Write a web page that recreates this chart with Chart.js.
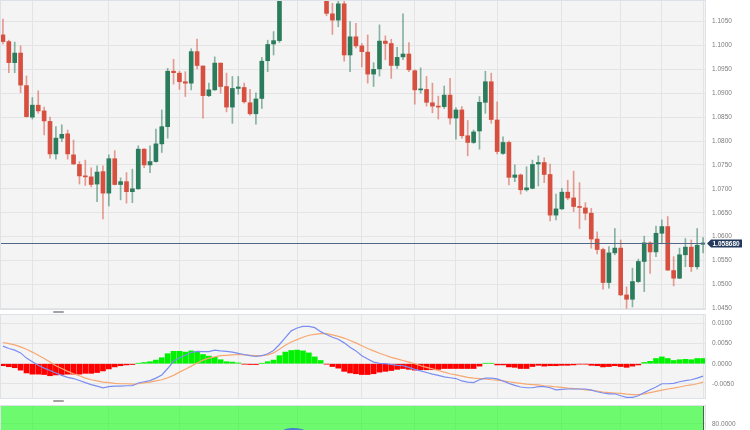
<!DOCTYPE html>
<html><head><meta charset="utf-8">
<script src="https://cdn.jsdelivr.net/npm/chart.js@4.4.1/dist/chart.umd.min.js"></script>
<style>
html,body{margin:0;padding:0;background:#fff;}
body{width:750px;height:430px;overflow:hidden;position:relative;}
.pane{position:absolute;left:0;width:750px;}
.grab{position:absolute;left:53px;width:11px;height:2px;background:#a3a3a3;border-radius:1px;}
</style></head><body>
<div class="pane" style="top:0;height:312px"><canvas id="main"></canvas></div>
<div class="grab" style="top:311px"></div>
<div class="pane" style="top:314px;height:85px"><canvas id="macd"></canvas></div>
<div class="grab" style="top:400px"></div>
<div class="pane" style="top:405px;height:95px"><canvas id="rsi"></canvas></div>
<script>
// ---------------- data ----------------
const open = [
1.1022,1.1008,1.0964,1.0984,1.0916,1.0850,1.0875,1.0863,1.0841,1.0773,
1.0806,1.0815,1.0771,1.0751,1.0727,1.0725,1.0710,1.0736,1.0691,1.0763,
1.0709,1.0715,1.0694,1.0700,1.0783,1.0750,1.0757,1.0794,1.0830,1.0946,
1.0942,1.0924,1.0921,1.0987,1.0957,1.0895,1.0907,1.0963,1.0914,1.0871,
1.0910,1.0912,1.0880,1.0857,1.0889,1.0968,1.1003,1.1010,1.1110,1.1130,
1.1150,1.1135,1.1145,1.1125,1.1120,1.1110,1.1066,1.1053,1.1087,1.0980,
1.1018,1.0999,1.0986,1.0940,1.0951,1.1009,1.1004,1.0958,1.0976,1.0982,
1.0947,1.0907,1.0908,1.0880,1.0873,1.0872,1.0896,1.0848,1.0865,1.0811,
1.0797,1.0821,1.0881,1.0924,1.0844,1.0774,1.0797,1.0724,1.0729,1.0698,
1.0701,1.0752,1.0755,1.0730,1.0645,1.0658,1.0693,1.0681,1.0663,1.0660,
1.0649,1.0595,1.0573,1.0504,1.0566,1.0576,1.0478,1.0469,1.0506,1.0548,
1.0587,1.0568,1.0607,1.0621,1.0529,1.0513,1.0562,1.0578,1.0537,1.0584];
const high = [
1.1055,1.1011,1.1007,1.0999,1.0936,1.0891,1.0905,1.0871,1.0850,1.0830,
1.0834,1.0823,1.0802,1.0757,1.0760,1.0744,1.0748,1.0748,1.0771,1.0780,
1.0723,1.0734,1.0741,1.0790,1.0784,1.0790,1.0825,1.0865,1.0952,1.0971,
1.0946,1.0945,1.0993,1.1013,1.0957,1.0921,1.0976,1.0963,1.0942,1.0935,
1.0935,1.0921,1.0908,1.0901,1.0975,1.1011,1.1029,1.1125,1.1140,1.1165,
1.1175,1.1160,1.1170,1.1145,1.1140,1.1118,1.1088,1.1098,1.1097,1.1050,
1.1046,1.1004,1.1022,1.0964,1.1043,1.1020,1.1013,1.0996,1.1066,1.1006,
1.0949,1.0953,1.0935,1.0921,1.0894,1.0915,1.0931,1.0870,1.0872,1.0843,
1.0823,1.0893,1.0946,1.0942,1.0882,1.0809,1.0800,1.0750,1.0731,1.0746,
1.0760,1.0769,1.0765,1.0752,1.0689,1.0701,1.0718,1.0737,1.0713,1.0671,
1.0659,1.0610,1.0576,1.0579,1.0617,1.0593,1.0495,1.0534,1.0553,1.0601,
1.0589,1.0622,1.0635,1.0642,1.0558,1.0576,1.0596,1.0593,1.0617,1.0598];
const low = [
1.1003,1.0943,1.0943,1.0901,1.0850,1.0846,1.0858,1.0813,1.0764,1.0762,
1.0799,1.0762,1.0751,1.0710,1.0707,1.0704,1.0673,1.0637,1.0664,1.0708,
1.0677,1.0670,1.0671,1.0699,1.0744,1.0734,1.0756,1.0776,1.0806,1.0919,
1.0908,1.0893,1.0907,1.0951,1.0848,1.0893,1.0906,1.0900,1.0861,1.0837,
1.0898,1.0879,1.0854,1.0835,1.0868,1.0945,1.0980,1.1006,1.1100,1.1115,
1.1120,1.1110,1.1115,1.1100,1.1100,1.1062,1.1023,1.1039,1.0967,1.0945,
1.0995,1.0955,1.0921,1.0914,1.0936,1.0970,1.0931,1.0952,1.0970,1.0945,
1.0877,1.0900,1.0873,1.0859,1.0846,1.0868,1.0835,1.0804,1.0806,1.0769,
1.0795,1.0783,1.0858,1.0837,1.0773,1.0772,1.0708,1.0715,1.0689,1.0695,
1.0700,1.0706,1.0713,1.0633,1.0635,1.0657,1.0677,1.0652,1.0617,1.0635,
1.0576,1.0564,1.0490,1.0492,1.0562,1.0477,1.0450,1.0453,1.0504,1.0485,
1.0523,1.0558,1.0585,1.0529,1.0497,1.0512,1.0537,1.0527,1.0532,1.0566];
const close = [
1.1008,1.0964,1.0984,1.0917,1.0851,1.0875,1.0863,1.0842,1.0773,1.0806,
1.0814,1.0773,1.0752,1.0727,1.0725,1.0709,1.0735,1.0691,1.0763,1.0709,
1.0715,1.0694,1.0700,1.0783,1.0750,1.0757,1.0794,1.0830,1.0946,1.0943,
1.0924,1.0921,1.0987,1.0958,1.0895,1.0907,1.0963,1.0914,1.0871,1.0910,
1.0913,1.0882,1.0857,1.0888,1.0967,1.1002,1.1010,1.1110,1.1130,1.1150,
1.1135,1.1145,1.1125,1.1120,1.1110,1.1067,1.1053,1.1087,1.0980,1.1018,
1.0999,1.0987,1.0940,1.0950,1.1009,1.1004,1.0958,1.0975,1.0982,1.0949,
1.0907,1.0908,1.0881,1.0873,1.0871,1.0896,1.0848,1.0865,1.0811,1.0797,
1.0819,1.0881,1.0924,1.0845,1.0778,1.0797,1.0724,1.0729,1.0698,1.0702,
1.0751,1.0755,1.0730,1.0645,1.0658,1.0693,1.0681,1.0663,1.0661,1.0649,
1.0595,1.0573,1.0504,1.0566,1.0576,1.0478,1.0469,1.0506,1.0548,1.0587,
1.0568,1.0607,1.0621,1.0530,1.0513,1.0562,1.0578,1.0537,1.0582,1.05868];
const lastPrice = 1.05868;

const macdHist = [
-0.0005,-0.00075,-0.0010,-0.0016,-0.0023,-0.0026,-0.0026,-0.0027,-0.0030,-0.0028,
-0.0027,-0.0026,-0.0026,-0.0026,-0.0024,-0.0024,-0.0022,-0.0018,-0.0013,-0.0008,
-0.0005,-0.0003,-0.0002,0.0001,0.0003,0.0005,0.0009,0.0015,0.0025,0.0031,
0.0031,0.0029,0.0032,0.0029,0.0023,0.0019,0.0016,0.0010,0.0005,0.0004,
0.0002,-0.0001,-0.0002,-0.0002,0.0001,0.0005,0.0009,0.0020,0.0029,0.0033,
0.0034,0.0032,0.0027,0.0017,0.0008,-0.0001,-0.0007,-0.0011,-0.0019,-0.0023,
-0.0025,-0.0027,-0.0027,-0.0025,-0.0021,-0.0019,-0.0017,-0.0014,-0.0012,-0.0014,
-0.0016,-0.0015,-0.0015,-0.0015,-0.0014,-0.0012,-0.0012,-0.0012,-0.0012,-0.0012,
-0.0012,-0.0006,0.0001,0.0001,-0.0003,-0.0003,-0.0008,-0.0009,-0.0012,-0.0012,
-0.0007,-0.0004,-0.0006,-0.0005,-0.0005,-0.0004,-0.0004,-0.0003,-0.0001,-0.0001,
-0.0004,-0.0005,-0.0008,-0.0007,-0.0005,-0.0007,-0.0009,-0.0006,-0.0003,0.0003,
0.0006,0.0013,0.0017,0.0013,0.0008,0.0010,0.0011,0.0010,0.0013,0.0013];
const macdLine = [
0.0044,0.0038,0.0034,0.0027,0.0014,0.0005,-0.0004,-0.0011,-0.0017,-0.0023,
-0.0029,-0.0034,-0.0037,-0.0042,-0.0047,-0.0052,-0.0056,-0.0060,-0.0057,-0.0056,
-0.0056,-0.0055,-0.0055,-0.0048,-0.0045,-0.0042,-0.0036,-0.0028,-0.0012,0.0006,
0.0015,0.0021,0.0028,0.0031,0.0030,0.0030,0.0034,0.0032,0.0031,0.0029,
0.0026,0.0023,0.0020,0.0018,0.0020,0.0025,0.0033,0.0048,0.0065,0.0082,
0.0089,0.0093,0.0093,0.0090,0.0080,0.0073,0.0066,0.0061,0.0052,0.0041,
0.0032,0.0020,0.0012,0.0004,0.0001,0.0000,-0.0002,-0.0004,-0.0005,-0.0009,
-0.0014,-0.0018,-0.0022,-0.0026,-0.0029,-0.0033,-0.0035,-0.0037,-0.0043,-0.0046,
-0.0047,-0.0040,-0.0036,-0.0036,-0.0038,-0.0043,-0.0049,-0.0054,-0.0058,-0.0060,
-0.0060,-0.0057,-0.0057,-0.0060,-0.0065,-0.0064,-0.0063,-0.0063,-0.0063,-0.0063,
-0.0066,-0.0070,-0.0073,-0.0075,-0.0075,-0.0080,-0.0084,-0.0084,-0.0080,-0.0072,
-0.0065,-0.0058,-0.0050,-0.0050,-0.0049,-0.0045,-0.0042,-0.0040,-0.0036,-0.0031];
const signalLine = [
0.0053,0.0050,0.0047,0.0042,0.0036,0.0029,0.0021,0.0013,0.0004,-0.0005,
-0.0012,-0.0019,-0.0025,-0.0030,-0.0036,-0.0040,-0.0043,-0.0046,-0.0047,-0.0049,
-0.0050,-0.0050,-0.0051,-0.0050,-0.0048,-0.0046,-0.0043,-0.0040,-0.0035,-0.0029,
-0.0021,-0.0014,-0.0006,0.0002,0.0009,0.0014,0.0017,0.0020,0.0021,0.0022,
0.0023,0.0022,0.0021,0.0020,0.0020,0.0022,0.0027,0.0036,0.0046,0.0054,
0.0060,0.0066,0.0071,0.0073,0.0075,0.0075,0.0072,0.0068,0.0064,0.0058,
0.0052,0.0045,0.0038,0.0032,0.0026,0.0021,0.0016,0.0012,0.0008,0.0004,
0.0000,-0.0005,-0.0009,-0.0013,-0.0017,-0.0021,-0.0025,-0.0028,-0.0031,-0.0034,
-0.0036,-0.0037,-0.0038,-0.0040,-0.0041,-0.0043,-0.0045,-0.0047,-0.0049,-0.0051,
-0.0052,-0.0053,-0.0055,-0.0056,-0.0058,-0.0059,-0.0061,-0.0062,-0.0063,-0.0065,
-0.0066,-0.0068,-0.0071,-0.0072,-0.0073,-0.0074,-0.0076,-0.0077,-0.0077,-0.0075,
-0.0072,-0.0069,-0.0066,-0.0063,-0.0061,-0.0058,-0.0055,-0.0053,-0.0050,-0.0046];
// RSI: only the part that rises into the visible strip can be read
const rsiVisible = { 47: 70.0, 48: 73.6, 49: 74.7, 50: 74.6, 51: 73.2, 52: 70.0 };

const priceTicks = [1.045,1.050,1.055,1.060,1.065,1.070,1.075,1.080,1.085,1.090,1.095,1.100,1.105];
const macdTicks = [-0.005, 0, 0.005, 0.010];
const rsiTicks = [80];
const gridIdx = [5,18,30,40,50,61,70,77,84,95,105,112,119];
const categories = open.map((_, i) => String(i + 1));

// ---------------- styling ----------------
const FONT = "'Liberation Sans', Arial, sans-serif";
const GRID = '#e4e4e4';
const BG = '#f4f4f4';
const FRAME = '#dde2e8';
const UP = '#2b7b5d', DOWN = '#d7503f';
const UP_W = 'rgba(43,123,93,0.55)', DOWN_W = 'rgba(215,80,63,0.55)';
Chart.defaults.animation = false;
Chart.defaults.font.family = FONT;
Chart.defaults.devicePixelRatio = 1;

const isUp = close.map((c, i) => c >= open[i]);
const bodyData = open.map((o, i) => [Math.min(o, close[i]), Math.max(o, close[i])]);
const wickData = low.map((l, i) => [l, high[i]]);

const xAxis = () => ({
  type: 'category', offset: true,
  grid: { offset: false, drawTicks: false,
          color: c => gridIdx.includes(c.index) ? GRID : 'rgba(0,0,0,0)' },
  ticks: { display: false, autoSkip: false },
  border: { display: false }
});
const yAxis = (min, max, ticks, fmt) => ({
  position: 'right', min, max,
  afterBuildTicks: s => { s.ticks = ticks.map(v => ({ value: v })); },
  afterFit: s => { s.width = 44; s.paddingTop = 0; s.paddingBottom = 0; },
  grid: { color: GRID, drawTicks: false },
  border: { display: false },
  ticks: { padding: 6, color: '#7c7c7c', font: { size: 6.5, family: FONT }, callback: fmt }
});
const panel = {
  id: 'panel',
  beforeDraw(chart) {
    const { ctx, chartArea: a } = chart;
    ctx.save(); ctx.fillStyle = BG;
    ctx.fillRect(a.left, a.top, a.right - a.left, a.bottom - a.top);
    ctx.restore();
  },
  afterDraw(chart) {
    const { ctx, chartArea: a } = chart;
    ctx.save(); ctx.strokeStyle = FRAME; ctx.lineWidth = 1;
    ctx.strokeRect(a.left + 0.5, a.top + 0.5, a.right - a.left - 1, a.bottom - a.top - 1);
    ctx.restore();
  }
};
const basePlugins = { legend: { display: false }, tooltip: { enabled: false } };

// ---------------- main price chart ----------------
const priceMarker = {
  id: 'priceMarker',
  afterDatasetsDraw(chart) {
    const { ctx, chartArea: a, scales: { y } } = chart;
    const py = Math.round(y.getPixelForValue(lastPrice)) + 0.5;
    ctx.save();
    ctx.strokeStyle = '#516987'; ctx.lineWidth = 1;
    ctx.beginPath(); ctx.moveTo(a.left, py); ctx.lineTo(a.right, py); ctx.stroke();
    const bx = a.right + 5, bw = 31, bh = 8;
    ctx.fillStyle = '#233a5c';
    ctx.beginPath();
    ctx.moveTo(a.right + 1, py);
    ctx.lineTo(bx, py - bh / 2); ctx.lineTo(bx + bw, py - bh / 2);
    ctx.lineTo(bx + bw, py + bh / 2); ctx.lineTo(bx, py + bh / 2);
    ctx.closePath(); ctx.fill();
    ctx.fillStyle = '#ffffff'; ctx.font = 'bold 6.5px ' + FONT;
    ctx.textBaseline = 'middle'; ctx.textAlign = 'left';
    ctx.fillText(lastPrice.toFixed(6), bx + 1.5, py + 0.5);
    ctx.restore();
  }
};
new Chart(document.getElementById('main'), {
  type: 'bar',
  data: {
    labels: categories,
    datasets: [
      { label: 'body', data: bodyData, order: 1, grouped: false, barThickness: 4, minBarLength: 1,
        backgroundColor: isUp.map(u => u ? UP : DOWN), borderWidth: 0, clip: 0 },
      { label: 'wick', data: wickData, order: 2, grouped: false, barThickness: 1,
        backgroundColor: isUp.map(u => u ? UP_W : DOWN_W), borderWidth: 0, clip: 0 }
    ]
  },
  options: {
    responsive: true, maintainAspectRatio: false, events: [],
    layout: { padding: { left: 0, right: 0, top: 0, bottom: 2 } },
    plugins: basePlugins,
    scales: { x: xAxis(), y: yAxis(1.04465, 1.10950, priceTicks, v => Number(v).toFixed(4)) }
  },
  plugins: [panel, priceMarker]
});

// ---------------- MACD ----------------
new Chart(document.getElementById('macd'), {
  type: 'bar',
  data: {
    labels: categories,
    datasets: [
      { type: 'line', label: 'MACD', data: macdLine, borderColor: '#7a8ef2', borderWidth: 1.2,
        pointRadius: 0, tension: 0, order: 1, clip: 0 },
      { type: 'line', label: 'Signal', data: signalLine, borderColor: '#f7a870', borderWidth: 1.2,
        pointRadius: 0, tension: 0, order: 2, clip: 0 },
      { label: 'Histogram', data: macdHist, order: 3, barThickness: 5,
        backgroundColor: macdHist.map(v => v >= 0 ? '#00f200' : '#ff0000'), borderWidth: 0, clip: 0 }
    ]
  },
  options: {
    responsive: true, maintainAspectRatio: false, events: [],
    layout: { padding: 0 },
    plugins: basePlugins,
    scales: { x: xAxis(), y: yAxis(-0.0088, 0.0124, macdTicks, v => Number(v).toFixed(4)) }
  },
  plugins: [panel]
});

// ---------------- RSI ----------------
const rsiZone = {
  id: 'rsiZone',
  beforeDatasetsDraw(chart) {
    const { ctx, chartArea: a, scales: { x } } = chart;
    const xr = Math.round(x.getPixelForValue(categories.length - 1));
    ctx.save();
    ctx.fillStyle = 'rgba(0,255,0,0.55)';
    ctx.fillRect(a.left, a.top, xr - a.left, a.bottom - a.top);
    ctx.strokeStyle = '#4f5f52'; ctx.lineWidth = 1;
    ctx.beginPath(); ctx.moveTo(xr + 0.5, a.top); ctx.lineTo(xr + 0.5, a.bottom); ctx.stroke();
    ctx.restore();
  }
};
new Chart(document.getElementById('rsi'), {
  type: 'line',
  data: {
    labels: categories,
    datasets: [
      { label: 'RSI', data: categories.map((_, i) => rsiVisible[i] ?? null), borderColor: '#4a7fd0',
        borderWidth: 2, pointRadius: 0, tension: 0.3, spanGaps: false, clip: 0 }
    ]
  },
  options: {
    responsive: true, maintainAspectRatio: false, events: [],
    layout: { padding: 0 },
    plugins: basePlugins,
    scales: { x: xAxis(), y: yAxis(0, 100, rsiTicks, v => Number(v).toFixed(4)) }
  },
  plugins: [panel, rsiZone]
});
</script>
</body></html>
